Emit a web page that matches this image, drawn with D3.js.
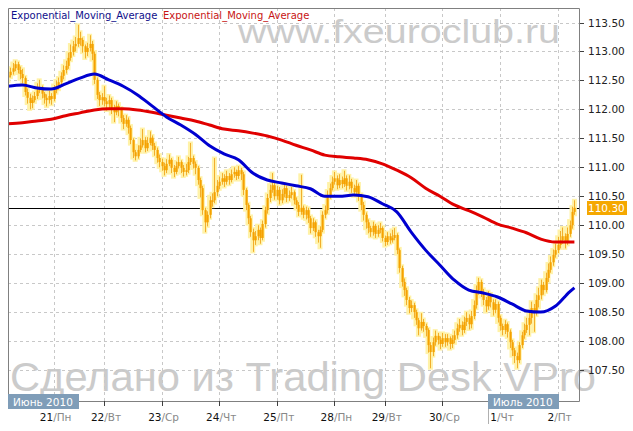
<!DOCTYPE html>
<html>
<head>
<meta charset="utf-8">
<script src="https://cdnjs.cloudflare.com/ajax/libs/d3/7.8.5/d3.min.js"></script>
<style>
body { margin: 0; background: #fff; }
svg { display: block; font-family: "DejaVu Sans", Verdana, sans-serif; }
</style>
</head>
<body>
<div id="chart"></div>
<script>
// hourly bars (bar 0 = left edge)
var closes = [
 112.59,112.65,112.71,112.78,112.68,112.61,112.54,112.30,112.20,112.11,
 112.16,112.23,112.33,112.37,112.27,112.20,112.16,112.23,112.18,112.33,
 112.40,112.47,112.58,112.68,112.75,112.89,112.99,113.09,113.13,113.23,
 113.20,113.09,112.99,113.06,113.13,112.96,112.51,112.25,112.16,112.21,
 112.14,112.09,112.16,112.02,111.95,112.06,111.99,111.85,111.75,111.82,
 111.68,111.47,111.26,111.19,111.30,111.38,111.47,111.33,111.42,111.51,
 111.37,111.30,111.16,111.09,111.02,110.95,111.06,111.13,110.99,110.92,
 111.02,111.09,110.99,110.92,110.95,111.09,111.16,111.06,110.99,110.78,
 110.64,110.26,110.05,110.18,110.43,110.43,110.57,110.68,110.75,110.81,
 110.75,110.85,110.78,110.88,110.92,110.85,110.95,110.88,110.61,110.35,
 110.12,109.88,109.74,109.81,109.92,109.78,110.02,110.26,110.47,110.61,
 110.69,110.50,110.61,110.43,110.54,110.64,110.47,110.52,110.57,110.43,
 110.35,110.23,110.30,110.18,110.26,110.12,109.95,110.05,109.88,109.81,
 109.92,110.18,110.26,110.52,110.64,110.75,110.81,110.69,110.78,110.71,
 110.81,110.68,110.75,110.64,110.57,110.68,110.50,110.35,110.18,110.05,
 109.95,109.88,109.99,109.85,109.92,109.95,109.78,109.71,109.81,109.74,
 109.78,109.83,109.57,109.26,109.02,108.88,108.71,108.57,108.62,108.50,
 108.36,108.22,108.33,108.26,108.19,107.93,107.81,107.98,108.09,108.02,
 107.95,108.05,107.98,108.05,107.95,108.02,108.10,108.22,108.28,108.19,
 108.33,108.40,108.29,108.43,108.62,108.88,109.02,108.85,108.71,108.60,
 108.78,108.67,108.54,108.64,108.40,108.26,108.19,108.29,108.16,107.98,
 107.84,107.74,107.67,107.93,108.10,108.19,108.28,108.40,108.57,108.50,
 108.71,108.79,108.97,108.88,109.09,109.23,109.36,109.49,109.57,109.66,
 109.74,109.81,109.71,109.85,110.00,110.23,110.30
];
var highs = [
 112.66,112.72,112.80,112.84,112.82,112.74,112.70,112.57,112.36,112.27,
 112.24,112.30,112.45,112.51,112.41,112.30,112.26,112.32,112.28,112.42,
 112.50,112.55,112.64,112.76,112.84,112.98,113.12,113.18,113.25,113.46,
 113.34,113.24,113.12,113.15,113.28,113.18,113.00,112.55,112.30,112.28,
 112.40,112.20,112.24,112.20,112.08,112.14,112.10,112.03,111.90,111.90,
 111.86,111.72,111.50,111.30,111.38,111.50,111.66,111.52,111.52,111.62,
 111.55,111.42,111.34,111.22,111.15,111.08,111.14,111.22,111.16,111.04,
 111.10,111.18,111.12,111.04,111.06,111.18,111.42,111.20,111.10,111.02,
 110.82,110.68,110.30,110.24,110.50,110.55,111.16,110.78,110.84,110.90,
 110.88,110.94,110.90,110.96,111.00,110.96,111.02,110.99,110.92,110.64,
 110.38,110.16,109.94,109.90,110.00,109.96,110.08,110.32,110.54,110.70,
 110.90,110.74,110.68,110.66,110.62,110.72,110.68,110.60,110.66,110.60,
 110.48,110.40,110.87,110.34,110.32,110.30,110.16,110.12,110.08,109.92,
 109.98,110.24,110.34,110.60,110.72,110.84,110.92,110.86,110.88,110.84,
 110.94,110.86,110.86,110.80,110.70,110.78,110.72,110.54,110.40,110.22,
 110.10,109.99,110.06,110.02,110.00,110.04,109.98,109.82,109.88,109.86,
 109.92,109.95,109.86,109.60,109.30,109.08,108.92,108.76,108.70,108.66,
 108.54,108.40,108.48,108.38,108.30,108.22,107.98,108.06,108.18,108.14,
 108.08,108.14,108.12,108.12,108.08,108.10,108.18,108.30,108.38,108.34,
 108.42,108.50,108.46,108.52,108.70,108.96,109.09,109.06,108.90,108.76,
 108.86,108.82,108.72,108.72,108.68,108.44,108.30,108.36,108.32,108.20,
 108.02,107.88,107.80,107.98,108.16,108.30,108.40,108.52,108.68,108.64,
 108.80,108.92,109.06,109.02,109.18,109.34,109.46,109.58,109.68,109.80,
 109.90,109.96,109.86,109.96,110.08,110.32,110.43
];
var lows = [
 112.48,112.55,112.60,112.66,112.62,112.52,112.45,112.24,112.10,112.00,
 112.02,112.12,112.18,112.28,112.19,112.10,112.05,112.10,112.08,112.14,
 112.28,112.34,112.42,112.52,112.62,112.70,112.84,112.93,113.00,113.08,
 113.10,112.98,112.88,112.92,113.00,112.85,112.44,112.18,112.06,112.08,
 112.05,111.98,112.02,111.92,111.78,111.90,111.88,111.78,111.66,111.70,
 111.58,111.40,111.16,111.12,111.15,111.26,111.34,111.26,111.28,111.38,
 111.30,111.20,111.08,111.00,110.94,110.86,110.90,111.02,110.90,110.83,
 110.88,110.98,110.90,110.84,110.86,110.90,111.04,110.98,110.88,110.70,
 110.48,110.18,109.88,109.98,110.12,110.32,110.38,110.50,110.62,110.70,
 110.66,110.70,110.70,110.74,110.82,110.78,110.80,110.78,110.52,110.26,
 110.02,109.80,109.54,109.66,109.74,109.68,109.74,109.96,110.20,110.40,
 110.56,110.44,110.44,110.36,110.38,110.48,110.40,110.42,110.46,110.36,
 110.28,110.16,110.18,110.12,110.10,110.04,109.86,109.90,109.80,109.70,
 109.61,109.88,110.12,110.20,110.46,110.60,110.70,110.62,110.64,110.64,
 110.66,110.60,110.62,110.56,110.50,110.52,110.42,110.26,110.08,109.94,
 109.86,109.80,109.82,109.78,109.80,109.86,109.72,109.64,109.66,109.68,
 109.70,109.74,109.50,109.18,108.94,108.78,108.62,108.48,108.50,108.40,
 108.28,108.10,108.18,108.16,108.08,107.80,107.53,107.74,107.92,107.94,
 107.86,107.90,107.90,107.92,107.86,107.88,107.96,108.04,108.16,108.10,
 108.14,108.26,108.20,108.22,108.38,108.56,108.80,108.76,108.62,108.50,
 108.54,108.58,108.44,108.48,108.32,108.18,108.10,108.12,108.06,107.88,
 107.74,107.62,107.53,107.62,107.88,108.04,108.14,108.10,108.30,108.16,
 108.44,108.58,108.72,108.80,108.84,109.02,109.18,109.30,109.44,109.52,
 109.60,109.68,109.60,109.66,109.80,109.94,110.18
];
var openFirst = 112.55;

// moving averages, read every 6 bars
var emaBars = [0,6,12,18,24,30,36,42,48,54,60,66,72,78,84,90,96,102,108,114,
               120,126,132,138,144,150,156,162,168,174,180,186,192,198,204,210,216,222,228,234,236];
var emaBlue = [112.40,112.42,112.37,112.35,112.44,112.54,112.61,112.51,112.40,112.25,
               112.06,111.87,111.73,111.57,111.37,111.23,111.13,110.90,110.78,110.73,
               110.68,110.63,110.50,110.50,110.52,110.49,110.37,110.23,109.88,109.57,
               109.31,109.05,108.88,108.83,108.76,108.64,108.52,108.50,108.60,108.85,108.92];
var emaRed  = [111.75,111.77,111.80,111.83,111.89,111.94,111.99,112.01,112.01,111.99,
               111.95,111.90,111.85,111.80,111.73,111.66,111.63,111.59,111.54,111.47,
               111.38,111.30,111.21,111.18,111.16,111.13,111.06,110.95,110.82,110.64,
               110.50,110.35,110.25,110.14,110.02,109.95,109.87,109.76,109.71,109.71,109.71];

var dayTicks = [19, 40, 64, 88, 112, 136, 157, 181, 205, 229];
var dayNums  = ["21", "22", "23", "24", "25", "28", "29", "30", "1", "2"];
var dayNames = ["Пн", "Вт", "Ср", "Чт", "Пт", "Пн", "Вт", "Ср", "Чт", "Пт"];
var monthNames = ["Июнь 2010", "Июль 2010"];
var monthStarts = [0, 200];
var priceTicks = [107.5, 108, 108.5, 109, 109.5, 110, 110.5, 111, 111.5, 112, 112.5, 113, 113.5];
var lastPrice = 110.30;
var legendNames = ["Exponential_Moving_Average", "Exponential_Moving_Average"];

var width = 633, height = 431;
var plotLeft = 8, plotTop = 8, plotRight = 579, plotBottom = 401;

var svg = d3.select("#chart")
    .append("svg")
    .attr("width", width)
    .attr("height", height);

var x = d3.scaleLinear().domain([0, 236]).range([8, 574.4]);
var y = d3.scaleLinear().domain([107.5, 113.5]).range([370, 22.5]);

// watermarks behind everything
svg.append("text")
    .attr("x", 238).attr("y", 43)
    .attr("textLength", 322).attr("lengthAdjust", "spacingAndGlyphs")
    .style("font-family", "'Liberation Sans', Arial, sans-serif")
    .style("font-size", "33px")
    .style("fill", "#cbcbcb")
    .text("www.fxeuroclub.ru");

svg.append("text")
    .attr("x", 10).attr("y", 391)
    .attr("textLength", 586).attr("lengthAdjust", "spacingAndGlyphs")
    .style("font-family", "'Liberation Sans', Arial, sans-serif")
    .style("font-size", "40px")
    .style("fill", "#cbcbcb")
    .text("Сделано из Trading Desk VPro");

// grid
svg.append("g").selectAll("line")
    .data(priceTicks)
    .enter().append("line")
    .attr("x1", plotLeft).attr("x2", plotRight)
    .attr("y1", function(d) { return Math.round(y(d)) + 0.5; })
    .attr("y2", function(d) { return Math.round(y(d)) + 0.5; })
    .style("stroke", "#c8c8c8")
    .style("stroke-dasharray", "3,3");

svg.append("g").selectAll("line")
    .data(dayTicks)
    .enter().append("line")
    .attr("x1", function(d) { return Math.round(x(d)) + 0.5; })
    .attr("x2", function(d) { return Math.round(x(d)) + 0.5; })
    .attr("y1", plotTop).attr("y2", plotBottom)
    .style("stroke", "#c8c8c8")
    .style("stroke-dasharray", "3,3");

// last price line
svg.append("line")
    .attr("x1", plotLeft).attr("x2", plotRight)
    .attr("y1", Math.round(y(lastPrice)) + 0.5)
    .attr("y2", Math.round(y(lastPrice)) + 0.5)
    .style("stroke", "#000");

svg.append("clipPath").attr("id", "plot")
    .append("rect")
    .attr("x", plotLeft).attr("y", plotTop)
    .attr("width", plotRight - plotLeft).attr("height", plotBottom - plotTop);

var plot = svg.append("g").attr("clip-path", "url(#plot)");

var bars = closes.map(function(c, i) {
    return {
        i: i,
        open: i === 0 ? openFirst : closes[i - 1],
        close: c,
        high: highs[i],
        low: lows[i]
    };
});

// soft yellow halo
plot.append("g").selectAll("line")
    .data(bars)
    .enter().append("line")
    .attr("x1", function(d) { return x(d.i); })
    .attr("x2", function(d) { return x(d.i); })
    .attr("y1", function(d) { return y(d.high) - 1.5; })
    .attr("y2", function(d) { return y(d.low) + 1.5; })
    .style("stroke", "#fff2a8")
    .style("stroke-width", 5);

plot.append("g").selectAll("line")
    .data(bars)
    .enter().append("line")
    .attr("x1", function(d) { return Math.round(x(d.i)) + 0.5; })
    .attr("x2", function(d) { return Math.round(x(d.i)) + 0.5; })
    .attr("y1", function(d) { return y(d.high); })
    .attr("y2", function(d) { return y(d.low); })
    .style("stroke", "#f2ae2c")
    .style("stroke-width", 1);

plot.append("g").selectAll("rect")
    .data(bars)
    .enter().append("rect")
    .attr("x", function(d) { return Math.round(x(d.i)) - 0.5; })
    .attr("width", 2.2)
    .attr("y", function(d) { return y(Math.max(d.open, d.close)); })
    .attr("height", function(d) { return Math.max(1.5, Math.abs(y(d.open) - y(d.close))); })
    .style("fill", "#f5a200");

// moving averages
var line = d3.line()
    .x(function(d) { return x(d[0]); })
    .y(function(d) { return y(d[1]); })
    .curve(d3.curveMonotoneX);

plot.append("path")
    .datum(emaBars.map(function(b, k) { return [b, emaRed[k]]; }))
    .attr("d", line)
    .style("fill", "none")
    .style("stroke", "#e00000")
    .style("stroke-width", 3);

plot.append("path")
    .datum(emaBars.map(function(b, k) { return [b, emaBlue[k]]; }))
    .attr("d", line)
    .style("fill", "none")
    .style("stroke", "#0000d0")
    .style("stroke-width", 3);

// frame
svg.append("path")
    .attr("d", "M" + (plotLeft + 0.5) + "," + plotBottom + "V" + (plotTop + 0.5) +
               "H" + (plotRight + 0.5) + "V" + (plotBottom + 0.5) + "H" + plotLeft)
    .style("fill", "none")
    .style("stroke", "#808080");

// right price axis
var yAxis = svg.append("g");
yAxis.selectAll("line")
    .data(priceTicks)
    .enter().append("line")
    .attr("x1", plotRight + 1).attr("x2", plotRight + 5)
    .attr("y1", function(d) { return Math.round(y(d)) + 0.5; })
    .attr("y2", function(d) { return Math.round(y(d)) + 0.5; })
    .style("stroke", "#404040");
yAxis.selectAll("text")
    .data(priceTicks)
    .enter().append("text")
    .attr("x", 588)
    .attr("y", function(d) { return y(d) + 4; })
    .style("font-size", "10.5px")
    .style("fill", "#222")
    .text(function(d) { return d.toFixed(2); });

// last price tag
svg.append("rect")
    .attr("x", 587).attr("y", Math.round(y(lastPrice)) - 7)
    .attr("width", 40).attr("height", 14)
    .style("fill", "#f5a800");
svg.append("text")
    .attr("x", 588).attr("y", y(lastPrice) + 4)
    .style("font-size", "10.5px")
    .style("fill", "#fff")
    .text(lastPrice.toFixed(2));

// day axis
var xAxis = svg.append("g");
xAxis.selectAll("line")
    .data(dayTicks)
    .enter().append("line")
    .attr("x1", function(d) { return Math.round(x(d)) + 0.5; })
    .attr("x2", function(d) { return Math.round(x(d)) + 0.5; })
    .attr("y1", plotBottom).attr("y2", plotBottom + 5)
    .style("stroke", "#404040");

var dayText = xAxis.selectAll("text")
    .data(dayTicks)
    .enter().append("text")
    .attr("x", function(d) { return x(d) + 2; })
    .attr("y", 421)
    .attr("text-anchor", "middle")
    .style("font-size", "10.5px");
dayText.append("tspan")
    .style("fill", "#111")
    .text(function(d, i) { return dayNums[i]; });
dayText.append("tspan")
    .style("fill", "#888")
    .text(function(d, i) { return "/" + dayNames[i]; });

// month tags
var month = svg.append("g").selectAll("g")
    .data(monthStarts)
    .enter().append("g")
    .attr("transform", function(d) { return "translate(" + Math.round(x(d)) + ",394)"; });
month.append("line")
    .attr("x1", 0.5).attr("x2", 0.5)
    .attr("y1", 15).attr("y2", 30)
    .style("stroke", function(d, i) { return i === 0 ? "none" : "#b0b0b0"; });
month.append("rect")
    .attr("width", 71).attr("height", 15)
    .style("fill", "#7f9db8");
month.append("text")
    .attr("x", 5).attr("y", 11.5)
    .style("font-size", "10.5px")
    .style("fill", "#fff")
    .text(function(d, i) { return monthNames[i]; });

// legend
svg.append("text")
    .attr("x", 11).attr("y", 19)
    .style("font-size", "10px")
    .style("fill", "#10108c")
    .text(legendNames[0]);
svg.append("text")
    .attr("x", 163).attr("y", 19)
    .style("font-size", "10px")
    .style("fill", "#c81414")
    .text(legendNames[1]);
</script>
</body>
</html>
